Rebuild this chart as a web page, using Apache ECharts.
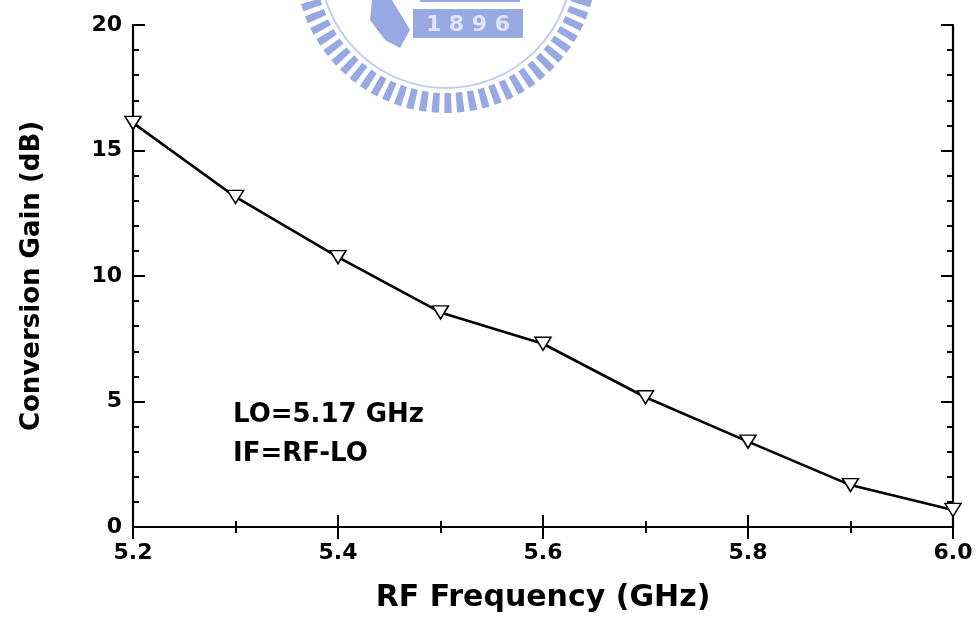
<!DOCTYPE html>
<html>
<head>
<meta charset="utf-8">
<script src="https://cdn.jsdelivr.net/npm/echarts@6/dist/echarts.min.js"></script>
<style>
  html, body { margin: 0; padding: 0; background: #fff; }
  #main { width: 977px; height: 621px; }
</style>
</head>
<body>
<div id="main"></div>
<script>
// RF frequency (GHz) and measured conversion gain (dB)
const freq = [5.2, 5.3, 5.4, 5.5, 5.6, 5.7, 5.8, 5.9, 6.0]
const gain = [16.1, 13.15, 10.75, 8.55, 7.3, 5.17, 3.4, 1.67, 0.68]
const notes = ['LO=5.17 GHz', 'IF=RF-LO']

const font = 'DejaVu Sans'
const tickStyle = { show: true, inside: true, length: 12, lineStyle: { color: '#000', width: 2 } }
const lineStyle = { show: true, lineStyle: { color: '#000', width: 2.2 } }

function xAx(pos, showLabel) {
  return {
    type: 'value', position: pos, min: 5.2, max: 6.0, interval: 0.2,
    name: showLabel ? 'RF Frequency (GHz)' : '',
    nameLocation: 'middle', nameGap: 56,
    nameTextStyle: { fontFamily: font, fontWeight: 'bold', fontSize: 30, color: '#000' },
    axisLine: lineStyle,
    axisTick: tickStyle,
    minorTick: { show: true, splitNumber: 2, length: 6, lineStyle: { color: '#000', width: 2 } },
    splitLine: { show: false },
    axisLabel: {
      show: showLabel, margin: 15, color: '#000', fontFamily: font, fontWeight: 'bold', fontSize: 22,
      formatter: v => v.toFixed(1)
    }
  }
}

function yAx(pos, showLabel) {
  return {
    type: 'value', position: pos, min: 0, max: 20, interval: 5,
    name: showLabel ? 'Conversion Gain (dB)' : '',
    nameLocation: 'middle', nameGap: 88,
    nameTextStyle: { fontFamily: font, fontWeight: 'bold', fontSize: 26, color: '#000' },
    axisLine: lineStyle,
    axisTick: tickStyle,
    minorTick: { show: true, splitNumber: 5, length: 6, lineStyle: { color: '#000', width: 2 } },
    splitLine: { show: false },
    axisLabel: { show: showLabel, margin: 11, color: '#000', fontFamily: font, fontWeight: 'bold', fontSize: 22 }
  }
}

// faint seal watermark at the top
const wmColor = '#97a8e3'
const watermark = [
  { type: 'circle', z: -5, shape: { cx: 446, cy: -38, r: 141 },
    style: { fill: null, stroke: wmColor, lineWidth: 20, lineDash: [7, 5] } },
  { type: 'circle', z: -5, shape: { cx: 446, cy: -38, r: 126 },
    style: { fill: null, stroke: '#c3cdf1', lineWidth: 2 } },
  { type: 'rect', z: -5, shape: { x: 413, y: 9, width: 110, height: 29 }, style: { fill: wmColor } },
  { type: 'rect', z: -5, shape: { x: 420, y: -4, width: 100, height: 6 }, style: { fill: wmColor } },
  { type: 'polygon', z: -5, shape: { points: [[372, 0], [392, 0], [410, 30], [400, 48], [385, 40], [370, 20]] },
    style: { fill: wmColor } },
  { type: 'text', z: -4, style: { x: 468, y: 25, text: '1 8 9 6', align: 'center', verticalAlign: 'middle',
    font: 'bold 22px ' + font, fill: '#dfe5fa' } }
]

const chart = echarts.init(document.getElementById('main'))
chart.setOption({
  backgroundColor: '#fff',
  animation: false,
  grid: { left: 133, right: 24, top: 25, bottom: 94 },
  xAxis: [xAx('bottom', true), xAx('top', false)],
  yAxis: [yAx('left', true), yAx('right', false)],
  graphic: watermark.concat([
    { type: 'text', left: 233, top: 402, style: { text: notes[0], font: 'bold 26px ' + font, fill: '#000' } },
    { type: 'text', left: 233, top: 441, style: { text: notes[1], font: 'bold 26px ' + font, fill: '#000' } }
  ]),
  series: [
    {
      type: 'line',
      data: freq.map((f, i) => [f, gain[i]]),
      clip: false,
      symbol: 'triangle',
      symbolRotate: 180,
      symbolSize: [16, 13],
      showAllSymbol: true,
      lineStyle: { color: '#000', width: 2.6 },
      itemStyle: { color: '#fff', borderColor: '#000', borderWidth: 1.5 },
      z: 5
    }
  ]
})
</script>
</body>
</html>
